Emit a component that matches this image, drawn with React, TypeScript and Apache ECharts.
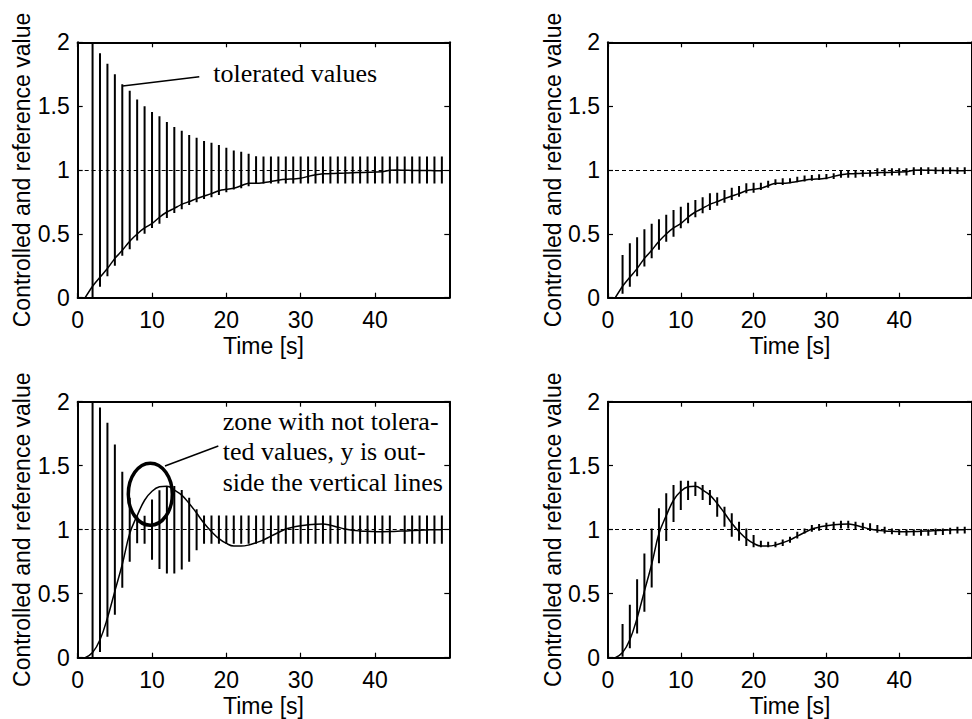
import React, { useEffect, useRef } from "react";
import * as echarts from "echarts";

// ---- data ----
const curveTimes = [
  1, 2, 3, 4, 5, 6, 7, 8, 9, 10, 11, 12, 13, 14, 15, 16, 17, 18, 19, 20, 21, 22, 23, 24, 25,
  26, 27, 28, 29, 30, 31, 32, 33, 34, 35, 36, 37, 38, 39, 40, 41, 42, 43, 44, 45, 46, 47, 48, 49,
];
// controlled value, first-order plant (top row)
const responseSlow = [
  0.0, 0.09, 0.16, 0.228, 0.308, 0.371, 0.442, 0.499, 0.546, 0.58, 0.63, 0.671, 0.7, 0.731, 0.752,
  0.776, 0.796, 0.815, 0.838, 0.849, 0.857, 0.877, 0.896, 0.896, 0.901, 0.91, 0.92, 0.927, 0.93,
  0.935, 0.95, 0.962, 0.97, 0.972, 0.974, 0.976, 0.979, 0.98, 0.982, 0.984, 0.986, 0.998, 1.0,
  0.998, 0.997, 0.996, 0.996, 0.995, 0.995,
];
// controlled value, oscillating plant (bottom row)
const responseOsc = [
  0.0, 0.04, 0.14, 0.31, 0.52, 0.73, 0.97, 1.11, 1.23, 1.3, 1.335, 1.34, 1.31, 1.27, 1.205, 1.13,
  1.05, 0.985, 0.93, 0.893, 0.872, 0.872, 0.88, 0.898, 0.92, 0.95, 0.978, 1.005, 1.02, 1.03, 1.038,
  1.043, 1.045, 1.035, 1.02, 1.005, 0.995, 0.99, 0.987, 0.985, 0.984, 0.985, 0.988, 0.99, 0.993,
  0.996, 0.998, 1.0, 1.0,
];
const referenceValue = 1;

const barTimes = [
  2, 3, 4, 5, 6, 7, 8, 9, 10, 11, 12, 13, 14, 15, 16, 17, 18, 19, 20, 21, 22, 23, 24, 25, 26, 27,
  28, 29, 30, 31, 32, 33, 34, 35, 36, 37, 38, 39, 40, 41, 42, 43, 44, 45, 46, 47, 48, 49,
];
// half widths of the tolerated band around the reference (left column)
const tolSlowHalf = [
  1.0, 0.914, 0.832, 0.75, 0.672, 0.62, 0.552, 0.5, 0.455, 0.42, 0.376, 0.336, 0.308, 0.275, 0.253,
  0.228, 0.214, 0.195, 0.174, 0.152, 0.143, 0.128, 0.107, 0.105, 0.105, 0.105, 0.105, 0.105, 0.105,
  0.105, 0.105, 0.105, 0.105, 0.105, 0.105, 0.105, 0.105, 0.105, 0.105, 0.105, 0.105, 0.105, 0.105,
  0.105, 0.105, 0.105, 0.105, 0.105,
];
const tolOscHalf = [
  1.0, 0.955, 0.836, 0.665, 0.453, 0.25, 0.106, 0.109, 0.235, 0.308, 0.342, 0.342, 0.31, 0.25, 0.16,
  0.11, 0.11, 0.11, 0.11, 0.11, 0.11, 0.11, 0.11, 0.11, 0.11, 0.11, 0.11, 0.11, 0.11, 0.11, 0.11,
  0.11, 0.11, 0.11, 0.11, 0.11, 0.11, 0.11, 0.11, 0.11, 0.11, null, 0.11, 0.11, 0.11, 0.11, 0.11,
  0.11,
];
// tolerated intervals for the controlled value (right column)
const slowLow = [
  0.03, 0.086, 0.167, 0.245, 0.309, 0.376, 0.439, 0.478, 0.543, 0.583, 0.63, 0.661, 0.687, 0.72,
  0.744, 0.765, 0.791, 0.818, 0.822, 0.843, 0.861, 0.883, 0.883, 0.896, 0.904, 0.909, 0.916, 0.922,
  0.927, 0.93, 0.94, 0.94, 0.94, 0.948, 0.948, 0.953, 0.953, 0.956, 0.956, 0.956, 0.961, 0.961,
  0.969, 0.969, 0.969, 0.969, 0.969, 0.969,
];
const slowHigh = [
  0.334, 0.426, 0.473, 0.536, 0.58, 0.614, 0.65, 0.687, 0.713, 0.744, 0.765, 0.786, 0.818, 0.822,
  0.843, 0.861, 0.875, 0.896, 0.901, 0.901, 0.916, 0.927, 0.935, 0.935, 0.948, 0.956, 0.961, 0.966,
  0.969, 0.974, 0.995, 1.0, 1.0, 1.0, 1.0, 1.013, 1.013, 1.013, 1.013, 1.013, 1.021, 1.021, 1.021,
  1.021, 1.021, 1.021, 1.021, 1.021,
];
const oscLow = [
  0.008, 0.073, 0.19, 0.359, 0.549, 0.737, 0.911, 1.06, 1.154, 1.232, 1.263, 1.232, 1.193, 1.102,
  1.024, 0.945, 0.914, 0.872, 0.862, 0.862, 0.862, 0.862, 0.872, 0.898, 0.932, 0.971, 0.984, 0.992,
  0.997, 1.003, 1.01, 1.01, 1.003, 0.997, 0.99, 0.977, 0.971, 0.964, 0.958, 0.953, 0.953, 0.953,
  0.953, 0.958, 0.958, 0.964, 0.971, 0.971,
];
const oscHigh = [
  0.263, 0.413, 0.612, 0.815, 1.01, 1.167, 1.284, 1.349, 1.383, 1.383, 1.375, 1.349, 1.31, 1.253,
  1.18, 1.128, 1.063, 1.01, 0.958, 0.914, 0.906, 0.906, 0.924, 0.945, 0.984, 1.01, 1.036, 1.044,
  1.055, 1.063, 1.07, 1.07, 1.063, 1.055, 1.05, 1.036, 1.023, 1.01, 1.003, 1.003, 1.003, 1.003,
  1.003, 1.01, 1.01, 1.016, 1.023, 1.023,
];

const xMin = 0;
const xMax = 50;
const xInterval = 10;
const yMin = 0;
const yMax = 2;
const yInterval = 0.5;
const xAxisTitle = "Time [s]";
const yAxisTitle = "Controlled and reference value";

// ---- layout / style ----
const SANS = "Liberation Sans, Arial, sans-serif";
const SERIF = "Liberation Serif, Times New Roman, serif";
const FS = 23;
const grids = [
  { left: 77.7, top: 42.3, width: 371.6, height: 255.4 },
  { left: 608, top: 42.3, width: 371.6, height: 255.4 },
  { left: 77.7, top: 401.7, width: 371.6, height: 256 },
  { left: 608, top: 401.7, width: 371.6, height: 256 },
];

function bandBars(half: (number | null)[]) {
  const out: number[][] = [];
  barTimes.forEach((t, i) => {
    const h = half[i];
    if (h === null || h === undefined) return;
    out.push([t, referenceValue - h, referenceValue + h]);
  });
  return out;
}
function rangeBars(lo: number[], hi: number[]) {
  return barTimes.map((t, i) => [t, lo[i], hi[i]]);
}
function curve(values: number[]) {
  return curveTimes.map((t, i) => [t, values[i]]);
}

const panels = [
  { curve: curve(responseSlow), bars: bandBars(tolSlowHalf), smooth: 0.2 },
  { curve: curve(responseSlow), bars: rangeBars(slowLow, slowHigh), smooth: 0.2 },
  { curve: curve(responseOsc), bars: bandBars(tolOscHalf), smooth: 0.4 },
  { curve: curve(responseOsc), bars: rangeBars(oscLow, oscHigh), smooth: 0.4 },
];

const frameLine = { show: true, onZero: false, lineStyle: { color: "#000", width: 2 } };
const inTick = { show: true, inside: true, length: 5, lineStyle: { color: "#000", width: 1.2 } };

export default function App() {
  const ref = useRef<HTMLDivElement>(null);
  useEffect(() => {
    if (!ref.current) return;
    const chart = echarts.init(ref.current, null, { renderer: "svg" });
    const xAxis: any[] = [];
    const yAxis: any[] = [];
    const series: any[] = [];
    grids.forEach((_, g) => {
      xAxis.push({
        type: "value", gridIndex: g, position: "bottom", min: xMin, max: xMax, interval: xInterval,
        axisLine: frameLine, axisTick: inTick, splitLine: { show: false },
        axisLabel: { show: true, margin: 11, color: "#000", fontFamily: SANS, fontSize: FS, showMaxLabel: false },
        name: xAxisTitle, nameLocation: "middle", nameGap: 37,
        nameTextStyle: { color: "#000", fontFamily: SANS, fontSize: FS },
      });
      xAxis.push({
        type: "value", gridIndex: g, position: "top", min: xMin, max: xMax, interval: xInterval,
        axisLine: frameLine, axisTick: inTick, splitLine: { show: false }, axisLabel: { show: false },
      });
      yAxis.push({
        type: "value", gridIndex: g, position: "left", min: yMin, max: yMax, interval: yInterval,
        axisLine: frameLine, axisTick: inTick, splitLine: { show: false },
        axisLabel: { show: true, margin: 8, color: "#000", fontFamily: SANS, fontSize: FS },
        name: yAxisTitle, nameLocation: "middle", nameGap: 42, nameRotate: 90,
        nameTextStyle: { color: "#000", fontFamily: SANS, fontSize: FS },
      });
      yAxis.push({
        type: "value", gridIndex: g, position: "right", min: yMin, max: yMax, interval: yInterval,
        axisLine: frameLine, axisTick: inTick, splitLine: { show: false }, axisLabel: { show: false },
      });
      const p = panels[g];
      series.push({
        type: "custom", xAxisIndex: 2 * g, yAxisIndex: 2 * g, clip: true, silent: true,
        data: p.bars, encode: { x: 0, y: [1, 2] },
        renderItem: (_params: any, api: any) => {
          const a = api.coord([api.value(0), api.value(1)]);
          const b = api.coord([api.value(0), api.value(2)]);
          return {
            type: "line",
            shape: { x1: a[0], y1: a[1], x2: b[0], y2: b[1] },
            style: { stroke: "#000", lineWidth: 2 },
          };
        },
      });
      series.push({
        type: "line", xAxisIndex: 2 * g, yAxisIndex: 2 * g, data: p.curve, showSymbol: false,
        smooth: p.smooth, clip: true, silent: true,
        lineStyle: { color: "#000", width: 1.5 },
        markLine: {
          silent: true, symbol: ["none", "none"], label: { show: false },
          lineStyle: { color: "#000", type: [4, 3], width: 1 },
          data: [{ yAxis: referenceValue }],
        },
      });
    });

    chart.setOption({
      animation: false,
      backgroundColor: "#fff",
      grid: grids.map((g) => ({ ...g, containLabel: false })),
      xAxis,
      yAxis,
      series,
      graphic: [
        { type: "line", shape: { x1: 122.7, y1: 86, x2: 199.3, y2: 76.7 }, style: { stroke: "#000", lineWidth: 1.5 }, z: 100 },
        {
          type: "text", x: 213.3, y: 73, z: 100,
          style: { text: "tolerated values", font: `26px ${SERIF}`, fill: "#000", verticalAlign: "middle" },
        },
        {
          type: "ellipse", shape: { cx: 150.3, cy: 494.2, rx: 22, ry: 31 }, z: 100,
          style: { fill: "none", stroke: "#000", lineWidth: 3.5 },
        },
        { type: "line", shape: { x1: 165, y1: 466, x2: 218.3, y2: 446 }, style: { stroke: "#000", lineWidth: 1.5 }, z: 100 },
        {
          type: "text", x: 222.7, y: 421.2, z: 100,
          style: { text: "zone with not tolera-", font: `26px ${SERIF}`, fill: "#000", verticalAlign: "middle" },
        },
        {
          type: "text", x: 222.7, y: 451.9, z: 100,
          style: { text: "ted values, y is out-", font: `26px ${SERIF}`, fill: "#000", verticalAlign: "middle" },
        },
        {
          type: "text", x: 222.7, y: 482.9, z: 100,
          style: { text: "side the vertical lines", font: `26px ${SERIF}`, fill: "#000", verticalAlign: "middle" },
        },
      ],
    });
    return () => chart.dispose();
  }, []);
  return (
    <div
      ref={ref}
      style={{ position: "absolute", left: 0, top: 0, width: 972, height: 719, background: "#fff" }}
    />
  );
}
